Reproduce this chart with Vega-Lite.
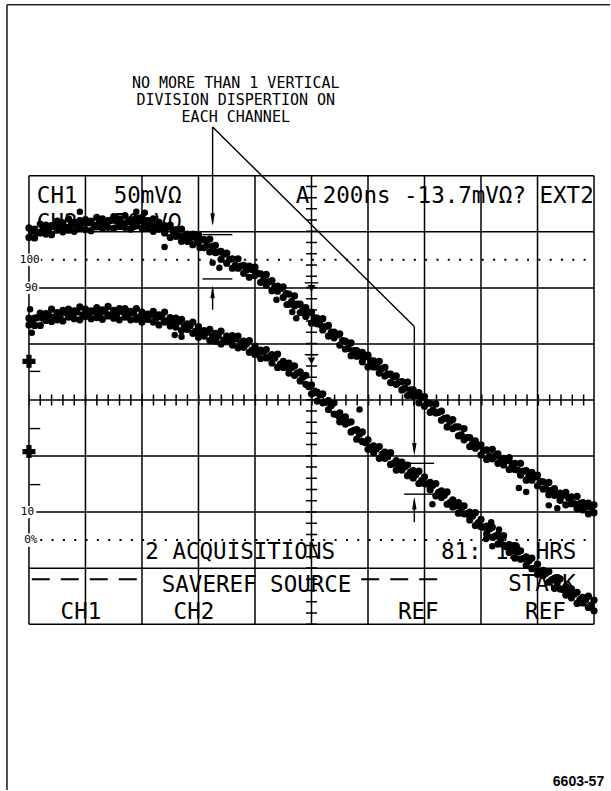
{
  "$schema": "https://vega.github.io/schema/vega-lite/v6.json",
  "width": 611,
  "height": 791,
  "autosize": {"type": "fit", "contains": "padding"},
  "padding": 0,
  "background": "white",
  "config": {"view": {"stroke": null}},
  "datasets": {
    "grid": [
      {"x": 0, "y": -4, "x2": 0, "y2": 4}, {"x": 1, "y": -4, "x2": 1, "y2": 4}, {"x": 2, "y": -4, "x2": 2, "y2": 4},
      {"x": 3, "y": -4, "x2": 3, "y2": 4}, {"x": 4, "y": -4, "x2": 4, "y2": 4}, {"x": 5, "y": -4, "x2": 5, "y2": 4},
      {"x": 6, "y": -4, "x2": 6, "y2": 4}, {"x": 7, "y": -4, "x2": 7, "y2": 4}, {"x": 8, "y": -4, "x2": 8, "y2": 4},
      {"x": 9, "y": -4, "x2": 9, "y2": 4}, {"x": 10, "y": -4, "x2": 10, "y2": 4},
      {"x": 0, "y": -4, "x2": 10, "y2": -4}, {"x": 0, "y": -3, "x2": 10, "y2": -3}, {"x": 0, "y": -2, "x2": 10, "y2": -2},
      {"x": 0, "y": -1, "x2": 10, "y2": -1}, {"x": 0, "y": 0, "x2": 10, "y2": 0}, {"x": 0, "y": 1, "x2": 10, "y2": 1},
      {"x": 0, "y": 2, "x2": 10, "y2": 2}, {"x": 0, "y": 3, "x2": 10, "y2": 3}, {"x": 0, "y": 4, "x2": 10, "y2": 4}
    ],
    "ticksH": [{"x": 0, "y": 0, "x2": 10, "y2": 0}],
    "ticksV": [{"x": 5, "y": -4, "x2": 5, "y2": 4}],
    "dotted": [{"x": 0, "y": 2.5, "x2": 10, "y2": 2.5}, {"x": 0, "y": -2.5, "x2": 10, "y2": -2.5}],
    "boxes": [
      {"x": -0.21, "y": 2.39, "x2": 0.21, "y2": 2.61},
      {"x": -0.17, "y": 1.89, "x2": 0.18, "y2": 2.11},
      {"x": -0.17, "y": -2.11, "x2": 0.13, "y2": -1.89},
      {"x": -0.18, "y": -2.62, "x2": 0.18, "y2": -2.38}
    ],
    "labels": [
      {"x": 0.19, "y": 2.5, "t": "100"}, {"x": 0.16, "y": 2.0, "t": "90"},
      {"x": 0.09, "y": -2.0, "t": "10"}, {"x": 0.15, "y": -2.5, "t": "0%"}
    ],
    "thin": [
      {"x": 3.25, "y": 3.15, "x2": 3.25, "y2": 4.87},
      {"x": 3.25, "y": 4.87, "x2": 6.82, "y2": 1.31},
      {"x": 6.82, "y": 1.31, "x2": 6.82, "y2": -0.92},
      {"x": 3.25, "y": 1.61, "x2": 3.25, "y2": 1.98},
      {"x": 6.82, "y": -2.18, "x2": 6.82, "y2": -1.78},
      {"x": 3.07, "y": 2.95, "x2": 3.6, "y2": 2.95},
      {"x": 3.07, "y": 2.16, "x2": 3.6, "y2": 2.16},
      {"x": 6.64, "y": -1.13, "x2": 7.17, "y2": -1.13},
      {"x": 6.64, "y": -1.68, "x2": 7.17, "y2": -1.68},
      {"x": 0, "y": 0.51, "x2": 0.2, "y2": 0.51},
      {"x": 0, "y": -0.51, "x2": 0.2, "y2": -0.51},
      {"x": 0, "y": -1.51, "x2": 0.2, "y2": -1.51},
      {"x": 4.88, "y": 2.09, "x2": 5.12, "y2": 2.09},
      {"x": 4.88, "y": 0.81, "x2": 5.12, "y2": 0.81}
    ],
    "frame": [
      {"x": -0.389, "y": 7.05, "x2": 10.2827, "y2": 7.05},
      {"x": -0.389, "y": 7.05, "x2": -0.389, "y2": -6.958}
    ],
    "dashes": [
      {"x": 0.05, "y": -3.2, "x2": 2.05, "y2": -3.2},
      {"x": 5.88, "y": -3.2, "x2": 7.39, "y2": -3.2}
    ],
    "grounds": [{"x": 0, "y": 0.69}, {"x": 0, "y": -0.92}],
    "disp": [
      {"x": 0.14, "y": 3.52, "t": "CH1"}, {"x": 1.5, "y": 3.52, "t": "50mVΩ"},
      {"x": 0.14, "y": 3.03, "t": "CH2"}, {"x": 1.5, "y": 3.03, "t": "50mVΩ"},
      {"x": 4.72, "y": 3.52, "t": "A 200ns -13.7mVΩ? EXT2"},
      {"x": 2.06, "y": -2.84, "t": "2 ACQUISITIONS"}, {"x": 7.29, "y": -2.84, "t": "81: 12 HRS"},
      {"x": 2.35, "y": -3.43, "t": "SAVEREF SOURCE"}, {"x": 8.48, "y": -3.41, "t": "STACK"},
      {"x": 0.56, "y": -3.91, "t": "CH1"}, {"x": 2.56, "y": -3.91, "t": "CH2"},
      {"x": 6.53, "y": -3.91, "t": "REF"}, {"x": 8.78, "y": -3.91, "t": "REF"}
    ],
    "note": [
      {"x": 3.66, "y": 5.57, "t": "NO MORE THAN 1 VERTICAL"},
      {"x": 3.66, "y": 5.27, "t": "DIVISION DISPERTION ON"},
      {"x": 3.66, "y": 4.96, "t": "EACH CHANNEL"}
    ],
    "trace": [
      {"x": 0.0, "a": 3.07, "b": 2.90, "c": 1.46, "d": 1.34},
      {"x": 0.1, "a": 3.05, "b": 2.89, "c": 1.46, "d": 1.33},
      {"x": 0.2, "a": 3.14, "b": 2.98, "c": 1.55, "d": 1.33},
      {"x": 0.3, "a": 3.12, "b": 2.96, "c": 1.54, "d": 1.42},
      {"x": 0.4, "a": 3.11, "b": 2.95, "c": 1.62, "d": 1.40},
      {"x": 0.5, "a": 3.19, "b": 3.03, "c": 1.56, "d": 1.43},
      {"x": 0.6, "a": 3.16, "b": 3.00, "c": 1.60, "d": 1.41},
      {"x": 0.7, "a": 3.23, "b": 3.03, "c": 1.62, "d": 1.48},
      {"x": 0.8, "a": 3.17, "b": 3.01, "c": 1.59, "d": 1.45},
      {"x": 0.9, "a": 3.20, "b": 3.07, "c": 1.66, "d": 1.43},
      {"x": 1.0, "a": 3.22, "b": 3.04, "c": 1.62, "d": 1.49},
      {"x": 1.1, "a": 3.19, "b": 3.02, "c": 1.59, "d": 1.45},
      {"x": 1.2, "a": 3.26, "b": 3.09, "c": 1.65, "d": 1.47},
      {"x": 1.3, "a": 3.23, "b": 3.06, "c": 1.61, "d": 1.44},
      {"x": 1.4, "a": 3.20, "b": 3.08, "c": 1.67, "d": 1.50},
      {"x": 1.5, "a": 3.27, "b": 3.06, "c": 1.60, "d": 1.46},
      {"x": 1.6, "a": 3.23, "b": 3.12, "c": 1.63, "d": 1.43},
      {"x": 1.7, "a": 3.29, "b": 3.08, "c": 1.63, "d": 1.48},
      {"x": 1.8, "a": 3.22, "b": 3.05, "c": 1.58, "d": 1.43},
      {"x": 1.9, "a": 3.25, "b": 3.11, "c": 1.63, "d": 1.44},
      {"x": 2.0, "a": 3.26, "b": 3.07, "c": 1.57, "d": 1.39},
      {"x": 2.1, "a": 3.20, "b": 3.07, "c": 1.53, "d": 1.44},
      {"x": 2.2, "a": 3.23, "b": 3.01, "c": 1.58, "d": 1.39},
      {"x": 2.3, "a": 3.17, "b": 3.05, "c": 1.52, "d": 1.34},
      {"x": 2.4, "a": 3.11, "b": 2.98, "c": 1.57, "d": 1.39},
      {"x": 2.5, "a": 3.12, "b": 2.90, "c": 1.47, "d": 1.32},
      {"x": 2.6, "a": 3.04, "b": 2.92, "c": 1.46, "d": 1.30},
      {"x": 2.7, "a": 3.05, "b": 2.83, "c": 1.44, "d": 1.24},
      {"x": 2.8, "a": 2.96, "b": 2.83, "c": 1.36, "d": 1.26},
      {"x": 2.9, "a": 2.96, "b": 2.77, "c": 1.39, "d": 1.19},
      {"x": 3.0, "a": 2.95, "b": 2.81, "c": 1.31, "d": 1.12},
      {"x": 3.1, "a": 2.86, "b": 2.72, "c": 1.24, "d": 1.14},
      {"x": 3.2, "a": 2.87, "b": 2.64, "c": 1.26, "d": 1.06},
      {"x": 3.3, "a": 2.76, "b": 2.63, "c": 1.19, "d": 1.05},
      {"x": 3.4, "a": 2.65, "b": 2.51, "c": 1.23, "d": 1.00},
      {"x": 3.5, "a": 2.62, "b": 2.44, "c": 1.14, "d": 1.04},
      {"x": 3.6, "a": 2.52, "b": 2.35, "c": 1.15, "d": 0.98},
      {"x": 3.7, "a": 2.52, "b": 2.35, "c": 1.14, "d": 0.93},
      {"x": 3.8, "a": 2.40, "b": 2.26, "c": 1.05, "d": 0.94},
      {"x": 3.9, "a": 2.39, "b": 2.19, "c": 1.06, "d": 0.85},
      {"x": 4.0, "a": 2.37, "b": 2.22, "c": 0.96, "d": 0.81},
      {"x": 4.1, "a": 2.25, "b": 2.10, "c": 0.89, "d": 0.74},
      {"x": 4.2, "a": 2.24, "b": 2.05, "c": 0.90, "d": 0.75},
      {"x": 4.3, "a": 2.13, "b": 1.95, "c": 0.81, "d": 0.66},
      {"x": 4.4, "a": 2.03, "b": 1.94, "c": 0.82, "d": 0.58},
      {"x": 4.5, "a": 2.02, "b": 1.83, "c": 0.69, "d": 0.58},
      {"x": 4.6, "a": 1.89, "b": 1.71, "c": 0.66, "d": 0.48},
      {"x": 4.7, "a": 1.86, "b": 1.68, "c": 0.61, "d": 0.44},
      {"x": 4.8, "a": 1.71, "b": 1.56, "c": 0.50, "d": 0.34},
      {"x": 4.9, "a": 1.65, "b": 1.49, "c": 0.44, "d": 0.28},
      {"x": 5.0, "a": 1.57, "b": 1.37, "c": 0.27, "d": 0.11},
      {"x": 5.1, "a": 1.46, "b": 1.36, "c": 0.14, "d": -0.02},
      {"x": 5.2, "a": 1.45, "b": 1.25, "c": 0.11, "d": -0.05},
      {"x": 5.3, "a": 1.33, "b": 1.14, "c": -0.01, "d": -0.17},
      {"x": 5.4, "a": 1.21, "b": 1.11, "c": -0.05, "d": -0.25},
      {"x": 5.5, "a": 1.18, "b": 0.98, "c": -0.23, "d": -0.39},
      {"x": 5.6, "a": 1.05, "b": 0.91, "c": -0.30, "d": -0.43},
      {"x": 5.7, "a": 1.02, "b": 0.79, "c": -0.39, "d": -0.57},
      {"x": 5.8, "a": 0.88, "b": 0.78, "c": -0.53, "d": -0.70},
      {"x": 5.9, "a": 0.85, "b": 0.68, "c": -0.57, "d": -0.74},
      {"x": 6.0, "a": 0.80, "b": 0.59, "c": -0.71, "d": -0.88},
      {"x": 6.1, "a": 0.70, "b": 0.59, "c": -0.82, "d": -0.94},
      {"x": 6.2, "a": 0.69, "b": 0.48, "c": -0.83, "d": -1.04},
      {"x": 6.3, "a": 0.58, "b": 0.43, "c": -0.93, "d": -1.04},
      {"x": 6.4, "a": 0.46, "b": 0.31, "c": -0.94, "d": -1.15},
      {"x": 6.5, "a": 0.43, "b": 0.28, "c": -1.08, "d": -1.25},
      {"x": 6.6, "a": 0.33, "b": 0.18, "c": -1.11, "d": -1.25},
      {"x": 6.7, "a": 0.32, "b": 0.08, "c": -1.16, "d": -1.35},
      {"x": 6.8, "a": 0.18, "b": 0.07, "c": -1.26, "d": -1.39},
      {"x": 6.9, "a": 0.13, "b": -0.05, "c": -1.27, "d": -1.49},
      {"x": 7.0, "a": 0.06, "b": -0.11, "c": -1.37, "d": -1.49},
      {"x": 7.1, "a": -0.06, "b": -0.22, "c": -1.47, "d": -1.60},
      {"x": 7.2, "a": -0.07, "b": -0.23, "c": -1.49, "d": -1.71},
      {"x": 7.3, "a": -0.20, "b": -0.36, "c": -1.62, "d": -1.74},
      {"x": 7.4, "a": -0.32, "b": -0.48, "c": -1.64, "d": -1.86},
      {"x": 7.5, "a": -0.35, "b": -0.51, "c": -1.78, "d": -1.91},
      {"x": 7.6, "a": -0.48, "b": -0.64, "c": -1.83, "d": -2.02},
      {"x": 7.7, "a": -0.51, "b": -0.71, "c": -1.89, "d": -2.03},
      {"x": 7.8, "a": -0.67, "b": -0.83, "c": -2.00, "d": -2.14},
      {"x": 7.9, "a": -0.73, "b": -0.86, "c": -2.01, "d": -2.24},
      {"x": 8.0, "a": -0.80, "b": -0.98, "c": -2.13, "d": -2.26},
      {"x": 8.1, "a": -0.89, "b": -1.06, "c": -2.25, "d": -2.39},
      {"x": 8.2, "a": -0.88, "b": -1.05, "c": -2.27, "d": -2.45},
      {"x": 8.3, "a": -0.96, "b": -1.13, "c": -2.40, "d": -2.57},
      {"x": 8.4, "a": -1.04, "b": -1.16, "c": -2.42, "d": -2.59},
      {"x": 8.5, "a": -1.03, "b": -1.24, "c": -2.58, "d": -2.72},
      {"x": 8.6, "a": -1.13, "b": -1.24, "c": -2.62, "d": -2.82},
      {"x": 8.7, "a": -1.13, "b": -1.34, "c": -2.69, "d": -2.84},
      {"x": 8.8, "a": -1.26, "b": -1.43, "c": -2.80, "d": -2.95},
      {"x": 8.9, "a": -1.29, "b": -1.43, "c": -2.82, "d": -3.01},
      {"x": 9.0, "a": -1.34, "b": -1.53, "c": -2.93, "d": -3.11},
      {"x": 9.1, "a": -1.46, "b": -1.59, "c": -3.04, "d": -3.13},
      {"x": 9.2, "a": -1.47, "b": -1.69, "c": -3.06, "d": -3.25},
      {"x": 9.3, "a": -1.58, "b": -1.70, "c": -3.18, "d": -3.36},
      {"x": 9.4, "a": -1.66, "b": -1.79, "c": -3.19, "d": -3.37},
      {"x": 9.5, "a": -1.65, "b": -1.87, "c": -3.33, "d": -3.48},
      {"x": 9.6, "a": -1.73, "b": -1.85, "c": -3.37, "d": -3.53},
      {"x": 9.7, "a": -1.72, "b": -1.94, "c": -3.43, "d": -3.63},
      {"x": 9.8, "a": -1.83, "b": -1.96, "c": -3.52, "d": -3.62},
      {"x": 9.9, "a": -1.84, "b": -2.03, "c": -3.50, "d": -3.70},
      {"x": 10.0, "a": -1.87, "b": -2.01, "c": -3.57, "d": -3.76}
    ],
    "mid": [
      {"x": 0.05, "m": 3.01, "n": 1.39}, {"x": 0.15, "m": 2.99, "n": 1.47}, {"x": 0.25, "m": 3.05, "n": 1.46},
      {"x": 0.35, "m": 3.05, "n": 1.51}, {"x": 0.45, "m": 3.11, "n": 1.48}, {"x": 0.55, "m": 3.12, "n": 1.50},
      {"x": 0.65, "m": 3.08, "n": 1.56}, {"x": 0.75, "m": 3.13, "n": 1.53}, {"x": 0.85, "m": 3.11, "n": 1.57},
      {"x": 0.95, "m": 3.16, "n": 1.52}, {"x": 1.05, "m": 3.16, "n": 1.53}, {"x": 1.15, "m": 3.12, "n": 1.58},
      {"x": 1.25, "m": 3.17, "n": 1.54}, {"x": 1.35, "m": 3.15, "n": 1.57}, {"x": 1.45, "m": 3.20, "n": 1.52},
      {"x": 1.55, "m": 3.19, "n": 1.53}, {"x": 1.65, "m": 3.14, "n": 1.58}, {"x": 1.75, "m": 3.18, "n": 1.53},
      {"x": 1.85, "m": 3.16, "n": 1.55}, {"x": 1.95, "m": 3.20, "n": 1.48}, {"x": 2.05, "m": 3.18, "n": 1.48},
      {"x": 2.15, "m": 3.11, "n": 1.52}, {"x": 2.25, "m": 3.12, "n": 1.46}, {"x": 2.35, "m": 3.08, "n": 1.48},
      {"x": 2.45, "m": 3.08, "n": 1.41}, {"x": 2.55, "m": 3.02, "n": 1.38}, {"x": 2.65, "m": 2.93, "n": 1.40},
      {"x": 2.75, "m": 2.93, "n": 1.32}, {"x": 2.85, "m": 2.89, "n": 1.32}, {"x": 2.95, "m": 2.90, "n": 1.23},
      {"x": 3.05, "m": 2.86, "n": 1.20}, {"x": 3.15, "m": 2.76, "n": 1.21}, {"x": 3.25, "m": 2.74, "n": 1.14},
      {"x": 3.35, "m": 2.64, "n": 1.14}, {"x": 3.45, "m": 2.60, "n": 1.07}, {"x": 3.55, "m": 2.51, "n": 1.06},
      {"x": 3.65, "m": 2.40, "n": 1.09}, {"x": 3.75, "m": 2.39, "n": 1.02}, {"x": 3.85, "m": 2.32, "n": 1.00},
      {"x": 3.95, "m": 2.33, "n": 0.89}, {"x": 4.05, "m": 2.26, "n": 0.85}, {"x": 4.15, "m": 2.14, "n": 0.86},
      {"x": 4.25, "m": 2.11, "n": 0.77}, {"x": 4.35, "m": 2.02, "n": 0.75}, {"x": 4.45, "m": 1.99, "n": 0.64},
      {"x": 4.55, "m": 1.90, "n": 0.59}, {"x": 4.65, "m": 1.76, "n": 0.58}, {"x": 4.75, "m": 1.71, "n": 0.48},
      {"x": 4.85, "m": 1.61, "n": 0.41}, {"x": 4.95, "m": 1.56, "n": 0.24}, {"x": 5.05, "m": 1.47, "n": 0.13},
      {"x": 5.15, "m": 1.35, "n": 0.09}, {"x": 5.25, "m": 1.31, "n": -0.04}, {"x": 5.35, "m": 1.21, "n": -0.10},
      {"x": 5.45, "m": 1.16, "n": -0.26}, {"x": 5.55, "m": 1.06, "n": -0.35}, {"x": 5.65, "m": 0.92, "n": -0.40},
      {"x": 5.75, "m": 0.88, "n": -0.54}, {"x": 5.85, "m": 0.79, "n": -0.61}, {"x": 5.95, "m": 0.77, "n": -0.76},
      {"x": 6.05, "m": 0.70, "n": -0.84}, {"x": 6.15, "m": 0.59, "n": -0.87}, {"x": 6.25, "m": 0.56, "n": -0.97},
      {"x": 6.35, "m": 0.46, "n": -1.01}, {"x": 6.45, "m": 0.41, "n": -1.13}, {"x": 6.55, "m": 0.32, "n": -1.18},
      {"x": 6.65, "m": 0.21, "n": -1.19}, {"x": 6.75, "m": 0.18, "n": -1.29}, {"x": 6.85, "m": 0.08, "n": -1.33},
      {"x": 6.95, "m": 0.04, "n": -1.44}, {"x": 7.05, "m": -0.05, "n": -1.50}, {"x": 7.15, "m": -0.18, "n": -1.52},
      {"x": 7.25, "m": -0.22, "n": -1.65}, {"x": 7.35, "m": -0.33, "n": -1.70}, {"x": 7.45, "m": -0.38, "n": -1.83},
      {"x": 7.55, "m": -0.48, "n": -1.89}, {"x": 7.65, "m": -0.62, "n": -1.92}, {"x": 7.75, "m": -0.67, "n": -2.03},
      {"x": 7.85, "m": -0.78, "n": -2.07}, {"x": 7.95, "m": -0.82, "n": -2.19}, {"x": 8.05, "m": -0.90, "n": -2.27},
      {"x": 8.15, "m": -1.00, "n": -2.30}, {"x": 8.25, "m": -1.00, "n": -2.43}, {"x": 8.35, "m": -1.07, "n": -2.48},
      {"x": 8.45, "m": -1.08, "n": -2.62}, {"x": 8.55, "m": -1.14, "n": -2.69}, {"x": 8.65, "m": -1.25, "n": -2.71},
      {"x": 8.75, "m": -1.27, "n": -2.83}, {"x": 8.85, "m": -1.35, "n": -2.87}, {"x": 8.95, "m": -1.37, "n": -3.00},
      {"x": 9.05, "m": -1.45, "n": -3.06}, {"x": 9.15, "m": -1.58, "n": -3.09}, {"x": 9.25, "m": -1.61, "n": -3.21},
      {"x": 9.35, "m": -1.69, "n": -3.26}, {"x": 9.45, "m": -1.70, "n": -3.38}, {"x": 9.55, "m": -1.75, "n": -3.44},
      {"x": 9.65, "m": -1.85, "n": -3.46}, {"x": 9.75, "m": -1.85, "n": -3.56}, {"x": 9.85, "m": -1.91, "n": -3.57},
      {"x": 9.95, "m": -1.91, "n": -3.66}
    ],
    "stray": [
      {"x": 3.02, "y": 2.71}, {"x": 2.40, "y": 2.73}, {"x": 3.25, "y": 2.45}, {"x": 3.37, "y": 2.36},
      {"x": 4.38, "y": 1.79}, {"x": 4.56, "y": 1.70}, {"x": 4.66, "y": 1.57}, {"x": 4.73, "y": 1.46},
      {"x": 8.67, "y": -1.57}, {"x": 8.80, "y": -1.64}, {"x": 9.20, "y": -1.88}, {"x": 9.35, "y": -1.93},
      {"x": 0.90, "y": 3.36}, {"x": 1.90, "y": 3.36}, {"x": 2.05, "y": 3.34},
      {"x": 2.58, "y": 1.16}, {"x": 2.70, "y": 1.13}, {"x": 5.49, "y": -0.31}, {"x": 5.85, "y": -0.17},
      {"x": 7.14, "y": -1.86}, {"x": 8.18, "y": -2.18}, {"x": 8.32, "y": -2.31}, {"x": 8.09, "y": -2.48},
      {"x": 8.20, "y": -2.61}, {"x": 0.02, "y": 1.62}, {"x": 0.05, "y": 1.20}
    ],
    "arrDown": [{"x": 3.25, "y": 3.22}, {"x": 6.82, "y": -0.88}],
    "arrUp": [{"x": 3.25, "y": 1.93}, {"x": 6.82, "y": -1.84}],
    "cursor": [{"x": 5, "y": 1.99}, {"x": 5, "y": 0.7}],
    "fig": [{"x": 10.18, "y": -6.89, "t": "6603-57"}]
  },
  "encoding": {
    "x": {"field": "x", "type": "quantitative", "scale": {"domain": [-0.5124, 10.2827], "nice": false, "zero": false}, "axis": null},
    "y": {"field": "y", "type": "quantitative", "scale": {"domain": [-6.958, 7.136], "nice": false, "zero": false}, "axis": null}
  },
  "layer": [
    {"data": {"name": "grid"}, "mark": {"type": "rule", "strokeWidth": 1.5, "color": "black"},
     "encoding": {"x2": {"field": "x2"}, "y2": {"field": "y2"}}},
    {"data": {"name": "ticksH"}, "mark": {"type": "rule", "strokeWidth": 11, "color": "black", "strokeDash": [1.5, 9.82], "strokeDashOffset": 0.75},
     "encoding": {"x2": {"field": "x2"}, "y2": {"field": "y2"}}},
    {"data": {"name": "ticksV"}, "mark": {"type": "rule", "strokeWidth": 11, "color": "black", "strokeDash": [1.5, 9.725], "strokeDashOffset": 0.75},
     "encoding": {"x2": {"field": "x2"}, "y2": {"field": "y2"}}},
    {"data": {"name": "dotted"}, "mark": {"type": "rule", "strokeWidth": 2, "color": "black", "strokeDash": [2, 9.32]},
     "encoding": {"x2": {"field": "x2"}, "y2": {"field": "y2"}}},
    {"data": {"name": "boxes"}, "mark": {"type": "rect", "color": "white", "opacity": 1},
     "encoding": {"x2": {"field": "x2"}, "y2": {"field": "y2"}}},
    {"data": {"name": "labels"}, "mark": {"type": "text", "font": "DejaVu Sans Mono", "fontSize": 11, "align": "right", "baseline": "middle", "color": "black"},
     "encoding": {"text": {"field": "t"}}},
    {"data": {"name": "thin"}, "mark": {"type": "rule", "strokeWidth": 1.4, "color": "black"},
     "encoding": {"x2": {"field": "x2"}, "y2": {"field": "y2"}}},
    {"data": {"name": "frame"}, "mark": {"type": "rule", "strokeWidth": 1.6, "color": "#222222"},
     "encoding": {"x2": {"field": "x2"}, "y2": {"field": "y2"}}},
    {"data": {"name": "dashes"}, "mark": {"type": "rule", "strokeWidth": 2, "color": "black", "strokeDash": [18, 11]},
     "encoding": {"x2": {"field": "x2"}, "y2": {"field": "y2"}}},
    {"data": {"name": "grounds"}, "mark": {"type": "point", "shape": "cross", "filled": true, "size": 170, "color": "black", "opacity": 1}},
    {"data": {"name": "disp"}, "mark": {"type": "text", "font": "DejaVu Sans Mono", "fontSize": 22.5, "align": "left", "baseline": "alphabetic", "color": "black"},
     "encoding": {"text": {"field": "t"}}},
    {"data": {"name": "note"}, "mark": {"type": "text", "font": "DejaVu Sans Mono", "fontSize": 15, "align": "center", "baseline": "alphabetic", "color": "black"},
     "encoding": {"text": {"field": "t"}}},
    {"data": {"name": "trace"}, "mark": {"type": "point", "filled": true, "size": 52, "color": "black", "opacity": 1},
     "encoding": {"y": {"field": "a", "type": "quantitative", "scale": {"domain": [-6.958, 7.136], "nice": false, "zero": false}, "axis": null}}},
    {"data": {"name": "trace"}, "mark": {"type": "point", "filled": true, "size": 52, "color": "black", "opacity": 1},
     "encoding": {"y": {"field": "b", "type": "quantitative", "scale": {"domain": [-6.958, 7.136], "nice": false, "zero": false}, "axis": null}}},
    {"data": {"name": "trace"}, "mark": {"type": "point", "filled": true, "size": 52, "color": "black", "opacity": 1},
     "encoding": {"y": {"field": "c", "type": "quantitative", "scale": {"domain": [-6.958, 7.136], "nice": false, "zero": false}, "axis": null}}},
    {"data": {"name": "trace"}, "mark": {"type": "point", "filled": true, "size": 52, "color": "black", "opacity": 1},
     "encoding": {"y": {"field": "d", "type": "quantitative", "scale": {"domain": [-6.958, 7.136], "nice": false, "zero": false}, "axis": null}}},
    {"data": {"name": "mid"}, "mark": {"type": "point", "filled": true, "size": 52, "color": "black", "opacity": 1},
     "encoding": {"y": {"field": "m", "type": "quantitative", "scale": {"domain": [-6.958, 7.136], "nice": false, "zero": false}, "axis": null}}},
    {"data": {"name": "mid"}, "mark": {"type": "point", "filled": true, "size": 52, "color": "black", "opacity": 1},
     "encoding": {"y": {"field": "n", "type": "quantitative", "scale": {"domain": [-6.958, 7.136], "nice": false, "zero": false}, "axis": null}}},
    {"data": {"name": "stray"}, "mark": {"type": "point", "filled": true, "size": 42, "color": "black", "opacity": 1}},
    {"data": {"name": "arrDown"}, "mark": {"type": "point", "shape": "M-0.35,-1L0.35,-1L0,1Z", "filled": true, "size": 160, "color": "black", "opacity": 1}},
    {"data": {"name": "arrUp"}, "mark": {"type": "point", "shape": "M-0.35,1L0.35,1L0,-1Z", "filled": true, "size": 160, "color": "black", "opacity": 1}},
    {"data": {"name": "cursor"}, "mark": {"type": "point", "shape": "triangle-down", "filled": true, "size": 60, "color": "black", "opacity": 1}},
    {"data": {"name": "fig"}, "mark": {"type": "text", "font": "Liberation Sans", "fontWeight": "bold", "fontSize": 14, "align": "right", "baseline": "alphabetic", "color": "black"},
     "encoding": {"text": {"field": "t"}}}
  ]
}
